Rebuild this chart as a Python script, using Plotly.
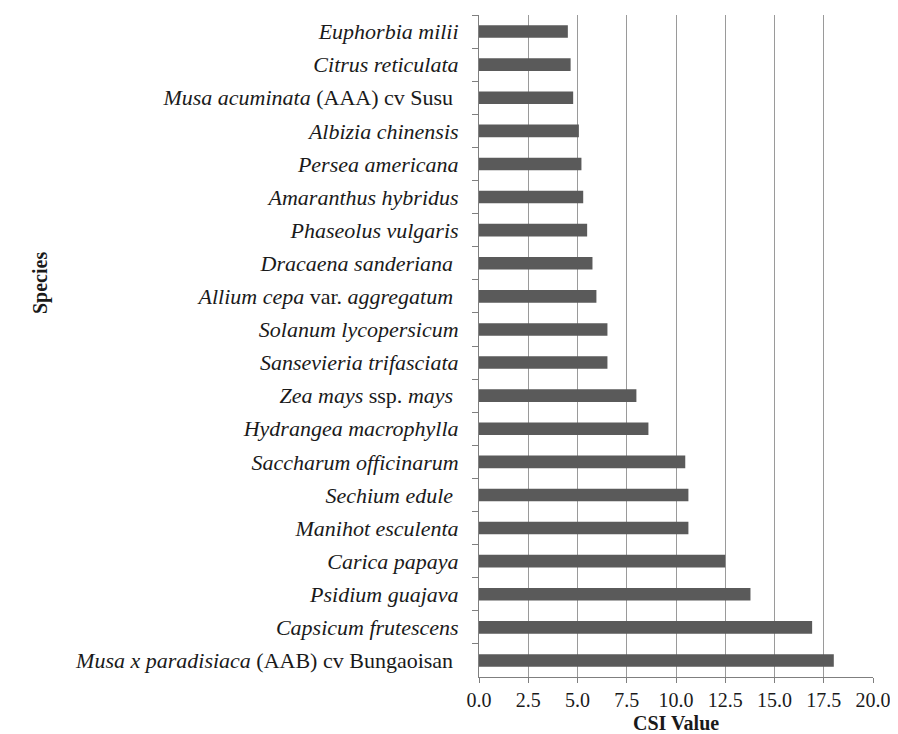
import plotly.graph_objects as go

species = [
    "<i>Euphorbia milii</i>",
    "<i>Citrus reticulata</i>",
    "<i>Musa acuminata</i> (AAA) cv Susu ",
    "<i>Albizia chinensis</i>",
    "<i>Persea americana</i>",
    "<i>Amaranthus hybridus</i>",
    "<i>Phaseolus vulgaris</i>",
    "<i>Dracaena sanderiana</i> ",
    "<i>Allium cepa</i> var. <i>aggregatum</i> ",
    "<i>Solanum lycopersicum</i>",
    "<i>Sansevieria trifasciata</i>",
    "<i>Zea mays</i> ssp. <i>mays</i> ",
    "<i>Hydrangea macrophylla</i>",
    "<i>Saccharum officinarum</i>",
    "<i>Sechium edule</i> ",
    "<i>Manihot esculenta</i>",
    "<i>Carica papaya</i>",
    "<i>Psidium guajava</i>",
    "<i>Capsicum frutescens</i>",
    "<i>Musa x paradisiaca</i> (AAB) cv Bungaoisan ",
]
csi_values = [4.51, 4.65, 4.78, 5.07, 5.20, 5.29, 5.49, 5.76, 5.96, 6.52,
              6.52, 7.99, 8.60, 10.47, 10.63, 10.63, 12.50, 13.78, 16.91, 18.01]
x_tick_vals = [0, 2.5, 5, 7.5, 10, 12.5, 15, 17.5, 20]
x_tick_text = ["0.0", "2.5", "5.0", "7.5", "10.0", "12.5", "15.0", "17.5", "20.0"]

serif = "Liberation Serif, Times New Roman, serif"

fig = go.Figure(go.Bar(
    x=csi_values, y=species, orientation="h",
    marker=dict(color="#5a5a5a", line=dict(width=0)),
))

# page body adds an 8px offset; compensate so the plot lands where the reference has it
fig.update_layout(
    width=890, height=726,
    margin=dict(l=471, r=25, t=7, b=57),
    paper_bgcolor="white", plot_bgcolor="white",
    bargap=0.62,
    showlegend=False,
    font=dict(family=serif, color="#1a1a1a", size=22),
)
fig.update_xaxes(
    range=[0, 20], tickvals=x_tick_vals, ticktext=x_tick_text,
    showgrid=True, gridcolor="#9a9a9a", gridwidth=1,
    showline=True, linecolor="#7f7f7f", linewidth=1,
    ticks="outside", ticklen=5, tickcolor="#7f7f7f",
    tickfont=dict(size=20, family=serif),
    ticklabelstandoff=0,
    zeroline=False, automargin=False,
)
fig.update_yaxes(
    autorange="reversed", type="category",
    showline=True, linecolor="#7f7f7f", linewidth=1,
    ticks="outside", ticklen=6, tickcolor="#7f7f7f", tickson="boundaries",
    tickfont=dict(size=22, family=serif),
    ticklabelstandoff=15,
    showgrid=False, automargin=False,
)
fig.add_annotation(
    text="<b>CSI Value</b>",
    xref="paper", yref="paper", x=0.5, y=(669 - 715) / 662,
    xanchor="center", yanchor="middle", showarrow=False,
    font=dict(size=20, family=serif, color="#1a1a1a"),
)
fig.add_annotation(
    text="<b>Species</b>", textangle=-90,
    xref="paper", yref="paper", x=(32 - 471) / 394, y=(726 - 57 - 275) / 662,
    xanchor="center", yanchor="middle", showarrow=False,
    font=dict(size=20, family=serif, color="#1a1a1a"),
)

fig.write_html("out.html")
